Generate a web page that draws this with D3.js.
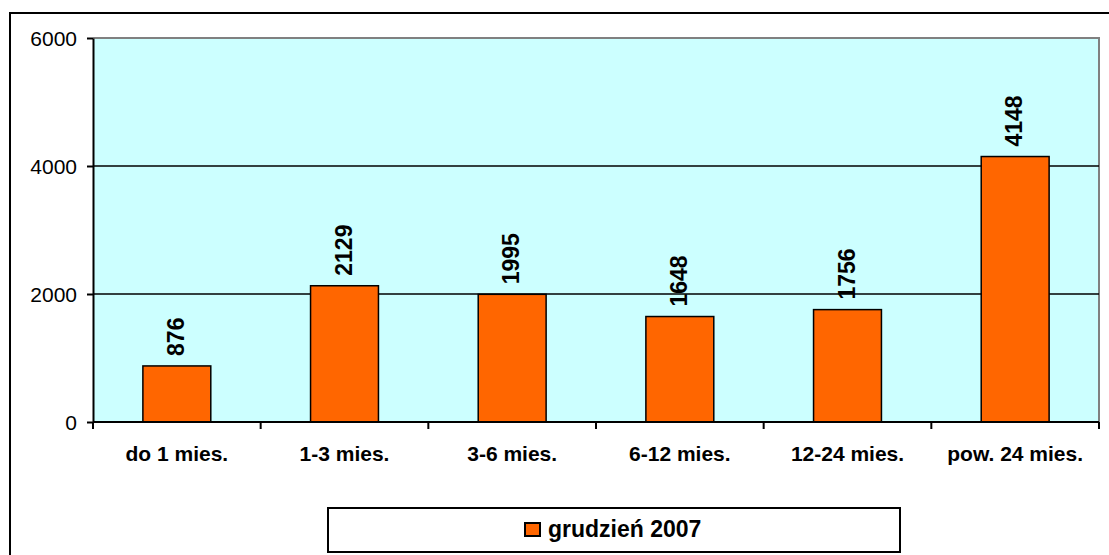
<!DOCTYPE html>
<html><head><meta charset="utf-8">
<script src="https://cdn.jsdelivr.net/npm/d3@7"></script>
<style>body{margin:0;background:#fff}svg{display:block;font-family:"Liberation Sans",Arial,sans-serif}</style>
</head><body>
<svg id="c" width="1109" height="555"></svg>
<script>
const categories = ["do 1 mies.","1-3 mies.","3-6 mies.","6-12 mies.","12-24 mies.","pow. 24 mies."];
const values = [876, 2129, 1995, 1648, 1756, 4148];
const yTicks = [0, 2000, 4000, 6000];
const seriesName = "grudzień 2007";

const svg = d3.select("#c");
const L = 93, R = 1099, T = 38, B = 422;

// outer frame
svg.append("rect").attr("x",10).attr("y",13).attr("width",1120).attr("height",560)
  .attr("fill","#fff").attr("stroke","#000").attr("stroke-width",2);

const x = d3.scaleBand().domain(categories).range([L,R]).paddingInner(0.595).paddingOuter(0.2975);
const xb = d3.scaleBand().domain(categories).range([L,R]);
const y = d3.scaleLinear().domain([0,6000]).range([B,T]);

svg.append("rect").attr("x",L).attr("y",T).attr("width",R-L).attr("height",B-T).attr("fill","#CCFFFF");
svg.append("path").attr("d",`M${L},${T}H${R}V${B}`).attr("fill","none").attr("stroke","#808080").attr("stroke-width",2);

// gridlines
svg.append("g").selectAll("line").data(yTicks.filter(d=>d>0&&d<6000)).join("line")
  .attr("x1",L).attr("x2",R).attr("y1",d=>y(d)).attr("y2",d=>y(d)).attr("stroke","#000").attr("stroke-width",1.3);

// bars
svg.append("g").selectAll("rect").data(values).join("rect")
  .attr("x",(d,i)=>x(categories[i])).attr("width",x.bandwidth())
  .attr("y",d=>y(d)).attr("height",d=>B-y(d))
  .attr("fill","#FF6600").attr("stroke","#000").attr("stroke-width",1.5);

// value labels
svg.append("g").selectAll("text").data(values).join("text")
  .attr("transform",(d,i)=>`translate(${x(categories[i])+x.bandwidth()/2+7},${y(d)-10}) rotate(-90)`)
  .attr("font-size",23).attr("font-weight","bold").attr("text-anchor","start").text(d=>d);

// y axis
const ya = svg.append("g").attr("transform",`translate(${L},0)`)
  .call(d3.axisLeft(y).tickValues(yTicks).tickSize(6).tickSizeOuter(0).tickPadding(10).tickFormat(d3.format("d")));
ya.select(".domain").attr("stroke","#000").attr("stroke-width",2);
ya.selectAll(".tick line").attr("stroke","#000").attr("stroke-width",2);
ya.selectAll("text").attr("font-size",21).attr("font-family","Liberation Sans, Arial, sans-serif").attr("fill","#000").attr("dy","0.36em");

// x axis
const xa = svg.append("g").attr("transform",`translate(0,${B})`);
xa.append("line").attr("x1",L).attr("x2",R).attr("stroke","#000").attr("stroke-width",2);
const bounds = categories.map(c=>xb(c)).concat([R]);
xa.selectAll("line.t").data(bounds).join("line").attr("class","t")
  .attr("x1",d=>d).attr("x2",d=>d).attr("y1",0).attr("y2",7).attr("stroke","#000").attr("stroke-width",2);
xa.selectAll("text").data(categories).join("text")
  .attr("x",d=>xb(d)+xb.bandwidth()/2).attr("y",39).attr("text-anchor","middle")
  .attr("font-size",21).attr("font-weight","bold").text(d=>d);

// legend
const lg = svg.append("g");
lg.append("rect").attr("x",328).attr("y",508).attr("width",572).attr("height",44).attr("fill","#fff").attr("stroke","#000").attr("stroke-width",2);
lg.append("rect").attr("x",525).attr("y",523).attr("width",15).attr("height",13).attr("fill","#FF6600").attr("stroke","#000").attr("stroke-width",2);
lg.append("text").attr("x",548).attr("y",537).attr("font-size",23).attr("font-weight","bold").text(seriesName);
</script>
</body></html>
